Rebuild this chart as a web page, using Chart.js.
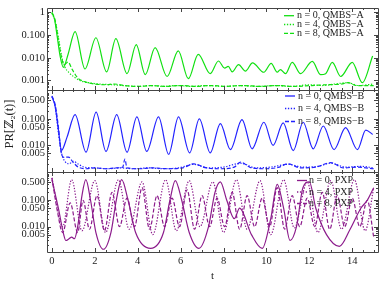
<!DOCTYPE html>
<html><head><meta charset="utf-8">
<script src="https://cdn.jsdelivr.net/npm/chart.js@4/dist/chart.umd.min.js"></script>
<style>html,body{margin:0;padding:0;background:#fff;}#wrap{position:relative;width:382px;height:283px;}</style>
</head><body><div id="wrap"><canvas id="c" width="382" height="283"></canvas></div>
<script>
// ---------- tick labels ----------
const xTicks = [0, 2, 4, 6, 8, 10, 12, 14];
const yTicksA = [1, 0.1, 0.01, 0.001];
const yLabelsA = ['1', '0.100', '0.010', '0.001'];
const yTicksB = [0.5, 0.1, 0.05, 0.01, 0.005];
const yLabelsB = ['0.500', '0.100', '0.050', '0.010', '0.005'];
const yTicksC = [0.5, 0.1, 0.05, 0.01, 0.005];
const yLabelsC = ['0.500', '0.100', '0.050', '0.010', '0.005'];

// ---------- series names ----------
const namesA = ['n = 0, QMBS\u2212A', 'n = 4, QMBS\u2212A', 'n = 8, QMBS\u2212A'];
const namesB = ['n = 0, QMBS\u2212B', 'n = 4, QMBS\u2212B', 'n = 8, QMBS\u2212B'];
const namesC = ['n = 0, PXP', 'n = 4, PXP', 'n = 8, PXP'];

// ---------- QMBS-A ----------
const A0_t = [0, 0.12, 0.25, 0.38, 0.53, 0.75, 1.08, 1.54, 2.05, 2.55, 2.98, 3.5, 3.93, 4.35, 4.81, 5.37, 5.89, 6.36, 6.82, 7.38, 7.76, 8.05, 8.22, 8.4, 8.7, 9.02, 9.35, 9.88, 10.22, 10.5, 10.65, 10.89, 11.2, 11.59, 12.14, 12.52, 12.76, 13.07, 13.46, 14.0, 14.47, 14.95];
const A0_v = [1.0, 0.5, 0.08, 0.012, 0.0038, 0.014, 0.14, 0.0032, 0.076, 0.0024, 0.069, 0.002, 0.038, 0.0018, 0.028, 0.0015, 0.02, 0.0012, 0.014, 0.002, 0.0072, 0.0035, 0.0042, 0.0024, 0.005, 0.0026, 0.006, 0.0023, 0.0057, 0.0023, 0.003, 0.002, 0.0063, 0.002, 0.0069, 0.0018, 0.002, 0.0063, 0.0015, 0.0063, 0.0008, 0.012];
const A4_t = [0, 0.15, 0.3, 0.45, 0.6, 0.8, 1.0, 1.3, 1.7, 2.2, 2.8, 3.3, 4.0, 4.6, 5.2, 5.8, 6.5, 7.2, 8.0, 8.8, 9.6, 10.4, 11.2, 12.0, 12.6, 13.2, 13.8, 14.3, 15];
const A4_v = [0.9, 0.4, 0.08, 0.012, 0.004, 0.0022, 0.0015, 0.001, 0.0008, 0.0007, 0.00065, 0.0006, 0.00055, 0.0006, 0.00055, 0.0006, 0.00055, 0.0006, 0.00055, 0.0006, 0.00055, 0.0006, 0.00055, 0.00065, 0.0006, 0.0007, 0.0008, 0.0006, 0.0007];
const A8_t = [0, 0.15, 0.3, 0.45, 0.57, 0.75, 0.95, 1.2, 1.5, 2.0, 2.5, 2.9, 3.4, 4.1, 4.7, 5.3, 6.0, 6.7, 7.4, 8.1, 8.9, 9.7, 10.5, 11.3, 12.1, 12.8, 13.5, 13.8, 14.2, 15];
const A8_v = [0.95, 0.45, 0.06, 0.01, 0.005, 0.0065, 0.003, 0.0013, 0.0009, 0.0007, 0.00065, 0.0007, 0.0006, 0.00055, 0.0006, 0.00055, 0.0006, 0.00055, 0.0006, 0.00055, 0.0006, 0.00055, 0.0006, 0.00055, 0.0006, 0.00065, 0.0007, 0.0008, 0.0006, 0.0006];

// ---------- QMBS-B ----------
const B0_t = [0, 0.15, 0.3, 0.45, 0.7, 1.08, 1.59, 2.06, 2.52, 3.02, 3.5, 3.96, 4.42, 4.97, 5.44, 5.9, 6.42, 6.87, 7.38, 7.85, 8.32, 8.86, 9.33, 9.88, 10.31, 10.78, 11.25, 11.71, 12.18, 12.65, 13.15, 13.69, 14.24, 14.63, 14.95];
const B0_v = [0.7, 0.3, 0.04, 0.0065, 0.02, 0.145, 0.0055, 0.18, 0.0059, 0.145, 0.0055, 0.12, 0.0059, 0.12, 0.0046, 0.12, 0.0052, 0.1, 0.0052, 0.067, 0.0069, 0.095, 0.0074, 0.075, 0.01, 0.071, 0.0063, 0.075, 0.0074, 0.054, 0.0069, 0.047, 0.0069, 0.038, 0.026];
const B4_t = [0, 0.15, 0.3, 0.45, 0.6, 0.8, 1.0, 1.2, 1.5, 2.0, 2.6, 3.2, 3.8, 4.5, 5.2, 5.9, 6.6, 7.3, 8.0, 8.8, 9.5, 10.2, 11.0, 11.7, 12.4, 13.0, 13.7, 14.4, 15];
const B4_v = [0.7, 0.3, 0.03, 0.005, 0.0025, 0.002, 0.0025, 0.002, 0.0015, 0.0014, 0.0013, 0.0014, 0.0013, 0.0014, 0.0013, 0.0014, 0.0019, 0.0014, 0.0015, 0.0021, 0.0014, 0.0015, 0.0019, 0.0015, 0.0016, 0.0021, 0.0015, 0.0016, 0.0014];
const B8_t = [0, 0.15, 0.3, 0.42, 0.55, 0.77, 1.0, 1.23, 1.6, 2.0, 2.5, 3.0, 3.3, 3.4, 3.5, 4.0, 4.7, 5.4, 6.1, 6.6, 7.2, 7.9, 8.5, 8.8, 9.3, 10.0, 10.6, 11.0, 11.6, 12.3, 13.0, 13.6, 14.2, 15];
const B8_v = [0.75, 0.35, 0.05, 0.006, 0.0035, 0.0036, 0.0022, 0.0015, 0.0013, 0.0014, 0.0013, 0.0014, 0.0015, 0.003, 0.0014, 0.0013, 0.0014, 0.0013, 0.0014, 0.002, 0.0014, 0.0013, 0.0015, 0.0023, 0.0014, 0.0013, 0.0015, 0.002, 0.0014, 0.0015, 0.0022, 0.0014, 0.0015, 0.0013];

// ---------- PXP ----------
const C0_t = [0, 0.3, 0.55, 0.65, 0.8, 0.92, 1.05, 1.2, 1.4, 1.58, 1.8, 2.05, 2.4, 2.75, 3.0, 3.25, 3.55, 3.9, 4.6, 5.2, 5.5, 5.75, 6.05, 6.4, 6.85, 7.3, 7.6, 7.85, 8.15, 8.5, 8.75, 9.3, 9.8, 10.2, 10.5, 10.8, 11.1, 11.4, 11.7, 12.0, 12.3, 12.8, 13.4, 13.9, 14.4, 14.7, 15];
const C0_v = [0.6, 0.05, 0.005, 0.003, 0.0035, 0.004, 0.0035, 0.01, 0.15, 0.6, 0.1, 0.006, 0.0014, 0.006, 0.1, 0.6, 0.1, 0.006, 0.0015, 0.006, 0.1, 0.55, 0.1, 0.006, 0.0015, 0.01, 0.2, 0.5, 0.1, 0.02, 0.05, 0.005, 0.0015, 0.02, 0.4, 0.05, 0.003, 0.01, 0.3, 0.5, 0.05, 0.005, 0.0018, 0.008, 0.05, 0.1, 0.3];
const C4_t = [0, 0.5, 0.92, 1.4, 2.0, 2.5, 3.1, 3.6, 4.2, 4.7, 5.3, 5.8, 6.4, 6.9, 7.5, 8.0, 8.6, 9.1, 9.7, 10.2, 10.8, 11.3, 11.9, 12.4, 13.0, 13.5, 14.1, 14.6, 15];
const C4_v = [0.7, 0.01, 0.6, 0.007, 0.55, 0.006, 0.6, 0.008, 0.5, 0.005, 0.6, 0.007, 0.55, 0.01, 0.5, 0.006, 0.6, 0.008, 0.55, 0.005, 0.6, 0.009, 0.5, 0.006, 0.55, 0.008, 0.6, 0.007, 0.3];
const C8_t = [0, 0.25, 0.5, 0.85, 1.2, 1.45, 1.75, 2.1, 2.45, 2.8, 3.15, 3.5, 3.85, 4.2, 4.55, 4.9, 5.25, 5.6, 5.95, 6.3, 6.65, 7.0, 7.35, 7.7, 8.05, 8.4, 8.75, 9.1, 9.45, 9.8, 10.15, 10.5, 10.85, 11.2, 11.55, 11.9, 12.25, 12.6, 12.95, 13.3, 13.65, 14.0, 14.35, 14.7, 15];
const C8_v = [0.7, 0.04, 0.006, 0.08, 0.006, 0.1, 0.008, 0.15, 0.007, 0.2, 0.01, 0.12, 0.01, 0.3, 0.008, 0.15, 0.01, 0.12, 0.01, 0.25, 0.008, 0.15, 0.01, 0.12, 0.01, 0.2, 0.008, 0.15, 0.01, 0.12, 0.01, 0.3, 0.008, 0.15, 0.01, 0.12, 0.01, 0.2, 0.008, 0.15, 0.01, 0.12, 0.01, 0.1, 0.004];

// ---------- styles ----------
const GREEN = '#11e011', BLUE = '#2222ff', PURPLE = '#8c1c8c';
const SERIF = "'Liberation Serif', 'DejaVu Serif', serif";
const DOT = [1.3, 1.6], DASH = [4, 2];

function series(t, v, label, color, dash, axis) {
  return {
    label, yAxisID: axis,
    data: t.map((x, i) => ({x, y: v[i]})),
    borderColor: color, backgroundColor: color, borderWidth: 1.2,
    borderDash: dash, pointRadius: 0, fill: false,
    cubicInterpolationMode: 'monotone'
  };
}

const datasets = [
  series(A0_t, A0_v, namesA[0], GREEN, [], 'yA'),
  series(A4_t, A4_v, namesA[1], GREEN, DOT, 'yA'),
  series(A8_t, A8_v, namesA[2], GREEN, DASH, 'yA'),
  series(B0_t, B0_v, namesB[0], BLUE, [], 'yB'),
  series(B4_t, B4_v, namesB[1], BLUE, DOT, 'yB'),
  series(B8_t, B8_v, namesB[2], BLUE, DASH, 'yB'),
  series(C0_t, C0_v, namesC[0], PURPLE, [], 'yC'),
  series(C4_t, C4_v, namesC[1], PURPLE, DOT, 'yC'),
  series(C8_t, C8_v, namesC[2], PURPLE, DASH, 'yC')
];

function yScale(min, max, ticks, labels, weight, sw) {
  return {
    type: 'logarithmic', position: 'left', stack: 'panels', stackWeight: sw, weight,
    min, max,
    grid: {display: false, drawTicks: false}, border: {display: false},
    afterBuildTicks: s => { s.ticks = ticks.map(v => ({value: v})); },
    afterFit: s => { s.width = 47; },
    ticks: {
      font: {family: SERIF, size: 10.5}, color: '#222', padding: 2,
      autoSkip: false,
      callback: (v, i) => labels[i]
    }
  };
}

const framePlugin = {
  id: 'frame',
  afterDatasetsDraw(chart) {
    const ctx = chart.ctx;
    const xs = chart.scales.x;
    const L = chart.chartArea.left, R = chart.chartArea.right;
    ctx.save();
    ctx.strokeStyle = '#444';
    ctx.lineWidth = 1;
    const panels = [
      ['yA', yTicksA, [0, 1, 2], namesA],
      ['yB', yTicksB, [3, 4, 5], namesB],
      ['yC', yTicksC, [6, 7, 8], namesC]
    ];
    const legendPos = [
      {x0: 284, x1: 294, tx: 297, rows: [15.7, 24.5, 33.3]},
      {x0: 285, x1: 295, tx: 298, rows: [96, 108.5, 121.5]},
      {x0: 297, x1: 307, tx: 309, rows: [180.5, 192, 203.5]}
    ];
    panels.forEach(([id, major, dsIdx, names], p) => {
      const s = chart.scales[id];
      const T = Math.round(s.top), B = Math.round(s.bottom);
      ctx.beginPath();
      ctx.rect(Math.round(L) + 0.5, T + 0.5, Math.round(R) - Math.round(L), B - T);
      ctx.stroke();
      ctx.beginPath();
      for (let k = 0; k <= 30; k++) {
        const t = k * 0.5;
        const px = Math.round(xs.getPixelForValue(t)) + 0.5;
        const len = (k % 4 === 0) ? 4 : 2;
        ctx.moveTo(px, B); ctx.lineTo(px, B - len);
        ctx.moveTo(px, T); ctx.lineTo(px, T + len);
      }
      const lo = Math.floor(Math.log10(s.min)), hi = Math.ceil(Math.log10(s.max));
      for (let d = lo; d <= hi; d++) {
        for (let m = 1; m <= 9; m++) {
          const v = m * Math.pow(10, d);
          if (v < s.min || v > s.max) continue;
          const isMajor = major.some(mv => Math.abs(mv - v) / v < 1e-6);
          const len = isMajor ? 4 : 2;
          const py = Math.round(s.getPixelForValue(v)) + 0.5;
          ctx.moveTo(L, py); ctx.lineTo(L + len, py);
          ctx.moveTo(R, py); ctx.lineTo(R - len, py);
        }
      }
      ctx.stroke();
      const lp = legendPos[p];
      dsIdx.forEach((di, r) => {
        const ds = chart.data.datasets[di];
        const y = lp.rows[r];
        ctx.save();
        ctx.strokeStyle = ds.borderColor;
        ctx.lineWidth = 1.3;
        ctx.setLineDash(ds.borderDash);
        ctx.beginPath(); ctx.moveTo(lp.x0, y); ctx.lineTo(lp.x1, y); ctx.stroke();
        ctx.restore();
        ctx.fillStyle = '#222';
        ctx.font = '10px ' + SERIF;
        ctx.textAlign = 'left'; ctx.textBaseline = 'middle';
        ctx.fillText(names[r], lp.tx, y);
      });
    });
    ctx.fillStyle = '#222';
    ctx.font = '11px ' + SERIF;
    ctx.textAlign = 'center'; ctx.textBaseline = 'middle';
    ctx.fillText('t', (L + R) / 2, 276);
    ctx.save();
    ctx.translate(10, 124);
    ctx.rotate(-Math.PI / 2);
    ctx.font = '12.5px ' + SERIF;
    ctx.fillText('PR[\u2124\u2082(t)]', 0, 0);
    ctx.restore();
    ctx.restore();
  }
};

new Chart(document.getElementById('c'), {
  type: 'line',
  data: {datasets},
  options: {
    responsive: false, animation: false, devicePixelRatio: 1,
    layout: {padding: {top: 3, right: 4, left: 0, bottom: 0}},
    plugins: {legend: {display: false}, tooltip: {enabled: false}},
    scales: {
      x: {
        type: 'linear', min: -0.23, max: 15.2, position: 'bottom',
        grid: {display: false, drawTicks: false}, border: {display: false},
        afterBuildTicks: s => { s.ticks = xTicks.map(v => ({value: v})); },
        afterFit: s => { s.height = 31; },
        ticks: {font: {family: SERIF, size: 10.5}, color: '#222', padding: 3, maxRotation: 0,
          autoSkip: false, callback: v => String(v)}
      },
      yA: yScale(0.0004, 1.5, yTicksA, yLabelsA, 3, 83),
      yB: yScale(0.001, 1.3, yTicksB, yLabelsB, 2, 84),
      yC: yScale(0.0011, 1.2, yTicksC, yLabelsC, 1, 82)
    }
  },
  plugins: [framePlugin]
});
</script></body></html>
